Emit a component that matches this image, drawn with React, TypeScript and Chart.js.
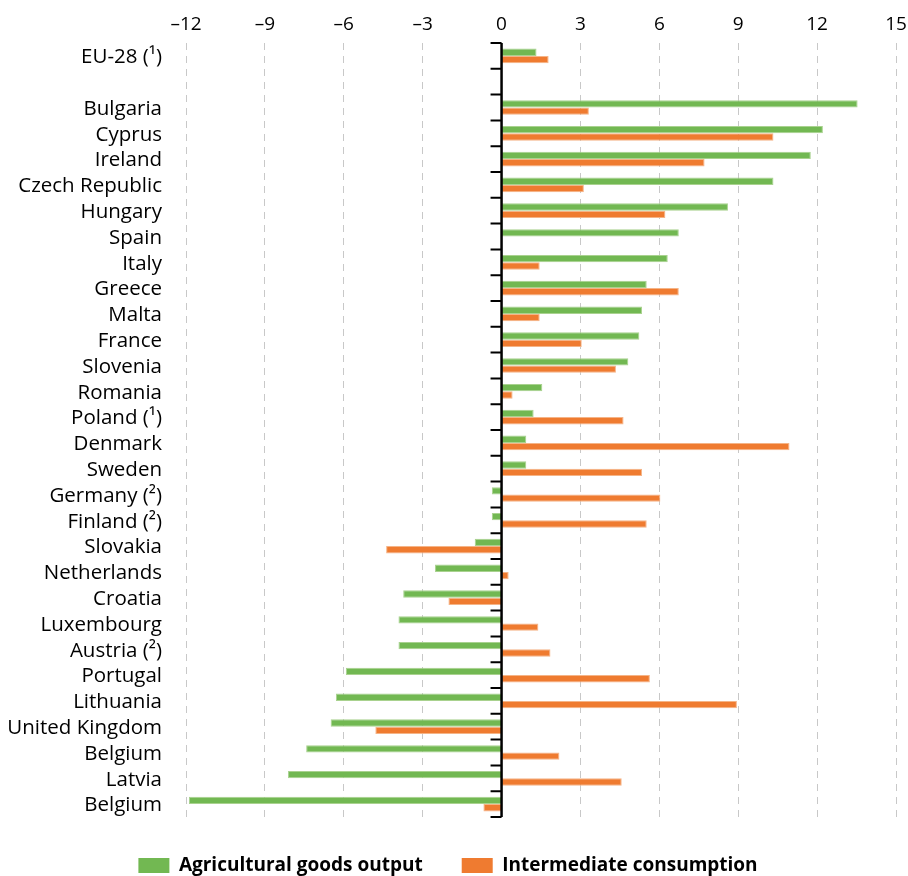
import React, { useEffect, useRef } from 'react';
import { Chart, registerables } from 'chart.js';

Chart.register(...registerables);

const categories: string[] = [
  'EU-28 (¹)', '', 'Bulgaria', 'Cyprus', 'Ireland', 'Czech Republic', 'Hungary', 'Spain',
  'Italy', 'Greece', 'Malta', 'France', 'Slovenia', 'Romania', 'Poland (¹)', 'Denmark',
  'Sweden', 'Germany (²)', 'Finland (²)', 'Slovakia', 'Netherlands', 'Croatia',
  'Luxembourg', 'Austria (²)', 'Portugal', 'Lithuania', 'United Kingdom', 'Belgium',
  'Latvia', 'Belgium',
];

const agriculturalGoodsOutput: (number | null)[] = [
  1.33, null, 13.54, 12.22, 11.76, 10.34, 8.61, 6.74,
  6.32, 5.52, 5.34, 5.24, 4.82, 1.55, 1.22, 0.94,
  0.94, -0.37, -0.37, -1.02, -2.53, -3.74,
  -3.92, -3.92, -5.92, -6.3, -6.5, -7.43,
  -8.12, -11.89,
];

const intermediateConsumption: (number | null)[] = [
  1.79, null, 3.32, 10.34, 7.72, 3.13, 6.23, 0,
  1.45, 6.74, 1.45, 3.05, 4.35, 0.42, 4.64, 10.95,
  5.34, 6.04, 5.52, -4.39, 0.27, -2.02,
  1.4, 1.86, 5.64, 8.95, -4.8, 2.2,
  4.57, -0.69,
];

const xTickValues: number[] = [-12, -9, -6, -3, 0, 3, 6, 9, 12, 15];
const legendLabels: string[] = ['Agricultural goods output', 'Intermediate consumption'];

const FONT = "'Open Sans', 'DejaVu Sans', sans-serif";

const zeroAxisPlugin = {
  id: 'zeroAxis',
  afterDatasetsDraw(chart: any) {
    const { ctx, chartArea, scales } = chart;
    const x = scales.x;
    const y = scales.y;
    const x0 = x.getPixelForValue(0);
    const n = chart.data.labels.length;
    const step = n > 1 ? y.getPixelForValue(1) - y.getPixelForValue(0) : chartArea.bottom - chartArea.top;
    ctx.save();
    ctx.strokeStyle = '#000';
    ctx.lineWidth = 2.5;
    ctx.beginPath();
    ctx.moveTo(x0, chartArea.top);
    ctx.lineTo(x0, chartArea.bottom);
    ctx.stroke();
    ctx.lineWidth = 2;
    ctx.beginPath();
    for (let i = 0; i <= n; i++) {
      const yy = y.getPixelForValue(0) - step / 2 + i * step;
      ctx.moveTo(x0 - 11, yy);
      ctx.lineTo(x0, yy);
    }
    ctx.stroke();
    ctx.restore();
  },
};

export default function App() {
  const canvasRef = useRef<HTMLCanvasElement | null>(null);

  useEffect(() => {
    if (!canvasRef.current) return;
    const chart = new Chart(canvasRef.current, {
      type: 'bar',
      data: {
        labels: categories,
        datasets: [
          {
            label: legendLabels[0],
            data: agriculturalGoodsOutput,
            backgroundColor: '#72b852',
            borderColor: '#a9d28f',
            borderWidth: 1,
            categoryPercentage: 0.57,
            barPercentage: 1,
          },
          {
            label: legendLabels[1],
            data: intermediateConsumption,
            backgroundColor: '#ef7b30',
            borderColor: '#f5b487',
            borderWidth: 1,
            categoryPercentage: 0.57,
            barPercentage: 1,
          },
        ],
      },
      options: {
        indexAxis: 'y',
        responsive: false,
        animation: false,
        devicePixelRatio: 1,
        layout: { padding: { left: 0, right: 12, top: 0, bottom: -9 } },
        plugins: {
          tooltip: { enabled: false },
          legend: {
            position: 'bottom',
            labels: {
              boxWidth: 31,
              boxHeight: 15,
              padding: 39,
              color: '#000',
              font: { family: FONT, size: 19, weight: 'bold' },
              generateLabels: (c: any) =>
                c.data.datasets.map((ds: any, i: number) => ({
                  text: ds.label,
                  fillStyle: ds.backgroundColor,
                  strokeStyle: ds.backgroundColor,
                  lineWidth: 0,
                  hidden: false,
                  datasetIndex: i,
                  fontColor: '#000',
                })),
            },
          },
        },
        scales: {
          x: {
            type: 'linear',
            position: 'top',
            min: -12,
            max: 15,
            afterBuildTicks: (scale: any) => {
              scale.ticks = xTickValues.map((v) => ({ value: v }));
            },
            afterFit: (scale: any) => {
              scale.height = 43;
              scale.paddingLeft = 0;
              scale.paddingRight = 0;
            },
            ticks: {
              color: '#000',
              padding: 7,
              font: { family: FONT, size: 19 },
              callback: (v: any) => (Number(v) < 0 ? '\u2013' + Math.abs(Number(v)) : String(v)),
            },
            grid: {
              color: '#c8c8c8',
              lineWidth: 1,
              drawTicks: false,
            },
            border: { display: false, dash: [7, 6] },
          },
          y: {
            type: 'category',
            afterFit: (scale: any) => {
              scale.width = 186;
            },
            ticks: {
              color: '#000',
              padding: 24,
              labelOffset: 1.5,
              autoSkip: false,
              font: { family: FONT, size: 20.5 },
            },
            grid: { display: false, drawTicks: false },
            border: { display: false },
          },
        },
      },
      plugins: [zeroAxisPlugin],
    });
    return () => chart.destroy();
  }, []);

  return (
    <div style={{ position: 'absolute', left: 0, top: 0, width: 908, height: 876, background: '#fff' }}>
      <canvas ref={canvasRef} width={908} height={876} />
    </div>
  );
}
